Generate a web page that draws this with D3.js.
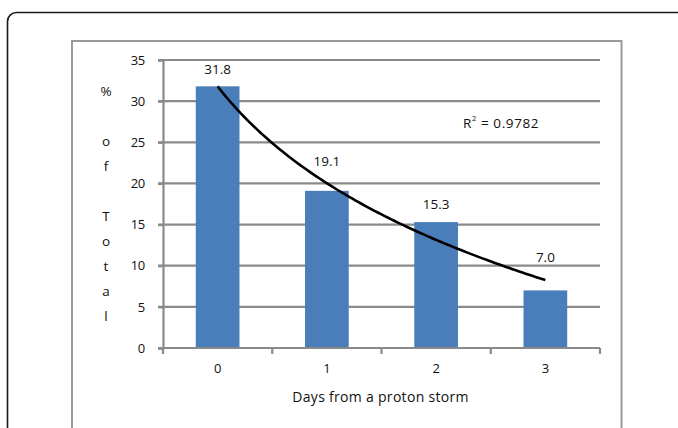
<!DOCTYPE html>
<html>
<head>
<meta charset="utf-8">
<script src="https://cdn.jsdelivr.net/npm/d3@7"></script>
<style>
  html, body { margin: 0; padding: 0; background: #fff; }
  svg { display: block; }
  text { font-family: "Open Sans", "Liberation Sans", Arial, sans-serif; fill: #111; }
</style>
</head>
<body>
<svg id="chart" width="678" height="428"></svg>
<script>
// ---- data ----
const categories = ["0", "1", "2", "3"];
const values = [31.8, 19.1, 15.3, 7.0];
const valueLabels = ["31.8", "19.1", "15.3", "7.0"];
const yTicks = [0, 5, 10, 15, 20, 25, 30, 35];
const yTitleChars = ["%", " ", "o", "f", " ", "T", "o", "t", "a", "l"];
const xTitle = "Days from a proton storm";
const r2Text = "0.9782";

// ---- layout ----
const svg = d3.select("#chart");
const FONT = "'Open Sans', 'Liberation Sans', Arial, sans-serif";
const plot = { left: 163, right: 600, top: 60, bottom: 348 };
const labelDy = [16, 28, 17, 32];   // label offsets above bars (px)

// frames
svg.append("rect").attr("x", 7.5).attr("y", 12.5).attr("width", 720).attr("height", 520)
  .attr("rx", 9).attr("fill", "none").attr("stroke", "#1a1a1a").attr("stroke-width", 1.6);
svg.append("rect").attr("x", 72).attr("y", 41).attr("width", 549.5).attr("height", 440)
  .attr("fill", "none").attr("stroke", "#9a9a9a").attr("stroke-width", 2);

const x = d3.scaleBand().domain(categories).range([plot.left, plot.right])
  .paddingInner(0.6).paddingOuter(0.3);
const y = d3.scaleLinear().domain([0, 35]).range([plot.bottom, plot.top]);

const gridColor = "#8a8a8a";

// gridlines
svg.append("g").selectAll("line").data(yTicks.filter(d => d > 0)).join("line")
  .attr("x1", plot.left - 5).attr("x2", plot.right)
  .attr("y1", d => y(d)).attr("y2", d => y(d))
  .attr("stroke", gridColor).attr("stroke-width", 2.2);

// y axis
const yAxis = svg.append("g").attr("transform", `translate(${plot.left},0)`)
  .call(d3.axisLeft(y).tickValues(yTicks).tickSize(5).tickPadding(13));
yAxis.select(".domain").attr("stroke", gridColor).attr("stroke-width", 2.2);
yAxis.selectAll(".tick line").attr("stroke", gridColor).attr("stroke-width", 2.2);
yAxis.selectAll(".tick text").attr("font-size", 13).attr("fill", "#111")
  .attr("font-family", FONT).attr("letter-spacing", -0.3);

// bars
svg.append("g").selectAll("rect").data(values).join("rect")
  .attr("x", (d, i) => x(categories[i]))
  .attr("width", x.bandwidth())
  .attr("y", d => y(d))
  .attr("height", d => y(0) - y(d))
  .attr("fill", "#4a7ebb");

// x axis
const xAxisG = svg.append("g").attr("transform", `translate(0,${plot.bottom})`);
xAxisG.append("line").attr("x1", plot.left - 5).attr("x2", plot.right)
  .attr("stroke", gridColor).attr("stroke-width", 2.2);
const boundaries = categories.map(c => x(c) - x.step() * x.paddingInner() / 2);
boundaries.push(plot.right);
boundaries[0] = plot.left;
xAxisG.selectAll("line.tk").data(boundaries).join("line").attr("class", "tk")
  .attr("x1", d => d).attr("x2", d => d).attr("y1", 0).attr("y2", 6)
  .attr("stroke", gridColor).attr("stroke-width", 2.2);
xAxisG.selectAll("text").data(categories).join("text")
  .attr("x", d => x(d) + x.bandwidth() / 2).attr("y", 22)
  .attr("text-anchor", "middle").attr("dominant-baseline", "middle")
  .attr("font-size", 13).text(d => d);

// trendline: logarithmic regression y = a + b ln(t), t = 1..n
const ts = values.map((d, i) => i + 1);
const lx = ts.map(t => Math.log(t));
const mx = d3.mean(lx), my = d3.mean(values);
const sxy = d3.sum(lx.map((v, i) => (v - mx) * (values[i] - my)));
const sxx = d3.sum(lx.map(v => (v - mx) ** 2));
const b = sxy / sxx, a = my - b * mx;
const tScale = d3.scaleLinear().domain([1, categories.length])
  .range([x(categories[0]) + x.bandwidth() / 2, x(categories[categories.length - 1]) + x.bandwidth() / 2]);
const samples = d3.range(0, 101).map(k => 1 + (categories.length - 1) * k / 100);
svg.append("path").datum(samples)
  .attr("d", d3.line().x(t => tScale(t)).y(t => y(a + b * Math.log(t))))
  .attr("fill", "none").attr("stroke", "#000").attr("stroke-width", 2.6);

// data labels
svg.append("g").selectAll("text").data(values).join("text")
  .attr("x", (d, i) => x(categories[i]) + x.bandwidth() / 2)
  .attr("y", (d, i) => y(d) - labelDy[i])
  .attr("text-anchor", "middle").attr("dominant-baseline", "middle")
  .attr("font-size", 13.5).text((d, i) => valueLabels[i]);

// R² label
const r2 = svg.append("text").attr("x", 463).attr("y", 124)
  .attr("dominant-baseline", "middle").attr("font-size", 13.5).attr("letter-spacing", 0.6);
r2.append("tspan").text("R");
r2.append("tspan").attr("font-size", 7.5).attr("dy", -5).text("2");
r2.append("tspan").attr("dy", 5).text(" = " + r2Text);

// y title: stacked characters
svg.append("g").selectAll("text").data(yTitleChars).join("text")
  .attr("x", 106).attr("y", (d, i) => 92 + i * 25)
  .attr("text-anchor", "middle").attr("dominant-baseline", "middle")
  .attr("font-size", 13.5).text(d => d);

// x title
svg.append("text").attr("x", (plot.left + plot.right) / 2 - 1).attr("y", 398)
  .attr("text-anchor", "middle").attr("dominant-baseline", "middle")
  .attr("font-size", 14).attr("letter-spacing", 0.3).text(xTitle);
</script>
</body>
</html>
